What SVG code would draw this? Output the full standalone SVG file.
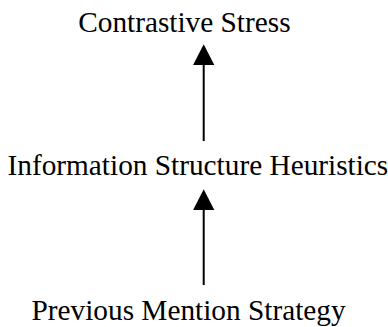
<svg xmlns="http://www.w3.org/2000/svg" width="388" height="327" viewBox="0 0 388 327">
  <style>
    .label { font-family: "Liberation Serif", "Times New Roman", serif; font-size: 29.3px; fill: #000; }
    .link { stroke: #000; stroke-width: 2; fill: none; }
    .head { fill: #000; stroke: none; }
  </style>
  <rect width="388" height="327" fill="#fff"/>
  <g id="contrastive-stress">
    <text class="label" x="78.2" y="32">Contrastive Stress</text>
  </g>
  <g id="information-structure-heuristics">
    <text class="label" x="7.5" y="175">Information Structure Heuristics</text>
  </g>
  <g id="previous-mention-strategy">
    <text class="label" x="31.5" y="320">Previous Mention Strategy</text>
  </g>
  <g id="connectors">
    <line class="link" x1="203.7" y1="141" x2="203.7" y2="64"/>
    <polygon class="head" points="203.7,44.3 214.3,65 193.1,65"/>
    <line class="link" x1="203.7" y1="285" x2="203.7" y2="209"/>
    <polygon class="head" points="203.7,189.3 214.3,210 193.1,210"/>
  </g>
</svg>
